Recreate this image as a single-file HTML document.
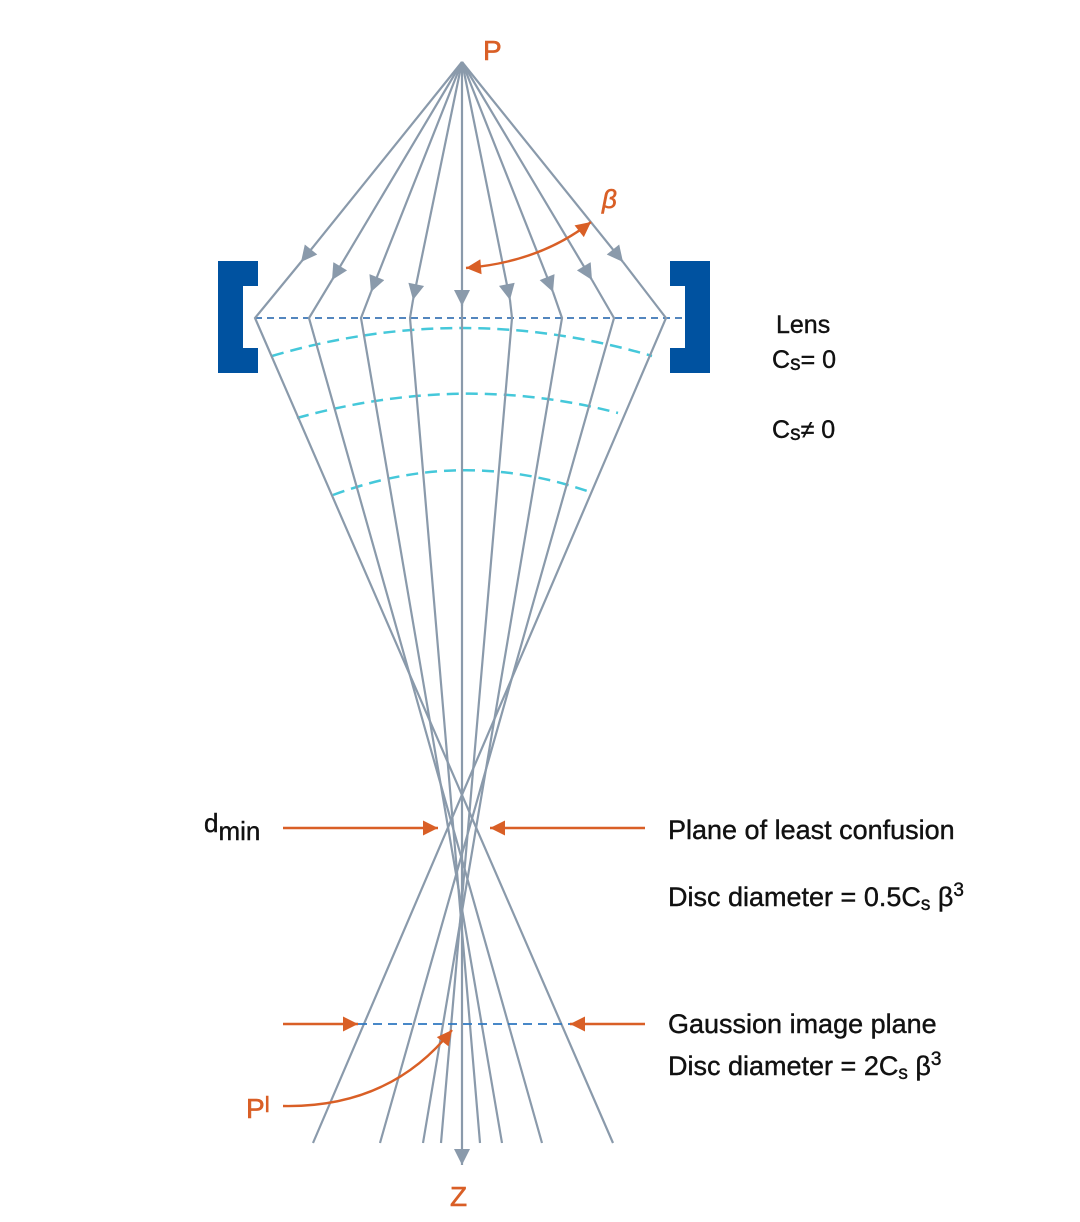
<!DOCTYPE html>
<html><head><meta charset="utf-8"><style>
html,body{margin:0;padding:0;background:#fff;}
svg{display:block;}
text{font-family:"Liberation Sans","DejaVu Sans",sans-serif;}
</style></head><body>
<svg width="1080" height="1222" viewBox="0 0 1080 1222" xmlns="http://www.w3.org/2000/svg">
<defs>
<marker id="oa" viewBox="0 0 10 10" refX="10" refY="5" markerWidth="18" markerHeight="15" orient="auto-start-reverse" markerUnits="userSpaceOnUse">
<path d="M0,0 L10,5 L0,10 z" fill="#d95f26"/>
</marker>
<marker id="gz" viewBox="0 0 10 10" refX="10" refY="5" markerWidth="20" markerHeight="16" orient="auto" markerUnits="userSpaceOnUse">
<path d="M0,0 L10,5 L0,10 z" fill="#8a9aab"/>
</marker>
</defs>

<path d="M218,261 H258 V286 H243 V348 H258 V373 H218 Z" fill="#0052a0"/>
<path d="M710,261 H670 V286 H685 V348 H670 V373 H710 Z" fill="#0052a0"/>

<line x1="255" y1="318" x2="685" y2="318" stroke="#1a5fa8" stroke-width="1.5" stroke-dasharray="7,5"/>

<g fill="none" stroke="#45c8da" stroke-width="2.5" stroke-dasharray="12,7">
<path d="M272,356 Q462,300 652,356"/>
<path d="M297,418 Q462,372 618,413"/>
<path d="M333,495 Q462,447 590,492"/>
</g>

<g fill="none" stroke="#8a9aab" stroke-width="2.2">
<path d="M462,62 L301,262" marker-end="url(#gz)"/>
<path d="M462,62 L332,280" marker-end="url(#gz)"/>
<path d="M462,62 L371,292" marker-end="url(#gz)"/>
<path d="M462,62 L413,300" marker-end="url(#gz)"/>
<path d="M462,62 L462,306" marker-end="url(#gz)"/>
<path d="M462,62 L510,300" marker-end="url(#gz)"/>
<path d="M462,62 L553,292" marker-end="url(#gz)"/>
<path d="M462,62 L592,280" marker-end="url(#gz)"/>
<path d="M462,62 L623,262" marker-end="url(#gz)"/>

<path d="M301,262 L255,318 L613,1143"/>
<path d="M332,280 L309,318 L542,1143"/>
<path d="M371,292 L361,318 L502,1143"/>
<path d="M413,300 L410,318 L480,1143"/>
<path d="M462,300 L462,1165" marker-end="url(#gz)"/>
<path d="M510,300 L512,318 L441,1143"/>
<path d="M553,292 L562,318 L423,1143"/>
<path d="M592,280 L614,318 L380,1143"/>
<path d="M623,262 L666,318 L313,1143"/>
</g>

<line x1="358" y1="1024" x2="570" y2="1024" stroke="#2f78c0" stroke-width="1.8" stroke-dasharray="9,6"/>

<g fill="none" stroke="#d95f26" stroke-width="2.4">
<path d="M591,222 Q540,262 466,268" marker-start="url(#oa)" marker-end="url(#oa)"/>
<path d="M283,828 L438,828" marker-end="url(#oa)"/>
<path d="M645,828 L490,828" marker-end="url(#oa)"/>
<path d="M283,1024 L358,1024" marker-end="url(#oa)"/>
<path d="M645,1024 L570,1024" marker-end="url(#oa)"/>
<path d="M283,1106 Q390,1108 452,1030" marker-end="url(#oa)"/>
</g>

<g fill="#d95f26" font-size="28" stroke="#d95f26" stroke-width="0.6">
<text x="483" y="60">P</text>
<text x="602" y="208" font-style="italic" font-size="26">β</text>
<text x="450" y="1206">Z</text>
<text x="246" y="1118">P<tspan font-size="22" dy="-6">l</tspan></text>
</g>
<g fill="#111" font-size="25" stroke="#111" stroke-width="0.4">
<text x="776" y="333">Lens</text>
<text x="772" y="368">C<tspan font-size="21" dy="2">s</tspan><tspan dy="-2">= 0</tspan></text>
<text x="772" y="438">C<tspan font-size="21" dy="2">s</tspan><tspan dy="-2">≠ 0</tspan></text>
<text x="204" y="832" font-size="26">d<tspan dy="8">min</tspan></text>
<text x="668" y="839" font-size="27">Plane of least confusion</text>
<text x="668" y="906" font-size="27">Disc diameter = 0.5C<tspan font-size="19" dy="4">s</tspan><tspan dy="-4"> β</tspan><tspan font-size="19" dy="-10">3</tspan></text>
<text x="668" y="1033" font-size="27">Gaussion image plane</text>
<text x="668" y="1075" font-size="27">Disc diameter = 2C<tspan font-size="19" dy="4">s</tspan><tspan dy="-4"> β</tspan><tspan font-size="19" dy="-10">3</tspan></text>
</g>
</svg>
</body></html>
